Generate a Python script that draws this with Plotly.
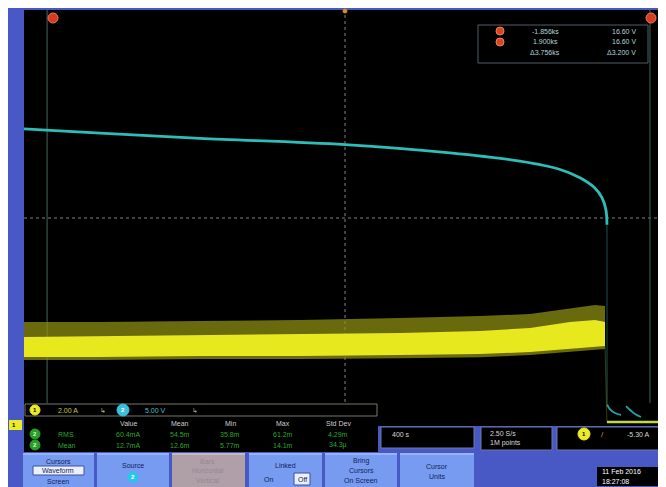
import plotly.graph_objects as go

# Channel 2 (cyan, volts) – slow decay, then collapse
ch2_t = [-2000, -1526, -903, 0, 654, 1090, 1340, 1464, 1558, 1601, 1626, 1632]
ch2_v = [27.6, 27.2, 26.7, 26.1, 25.3, 24.5, 23.7, 22.9, 21.9, 21.0, 19.8, 18.4]
# after the collapse: two small ringing arcs near 0 V
ch2_tail_t = [1633, 1650, 1682, 1720, None, 1751, 1776, 1807, 1844]
ch2_tail_v = [1.1, 0.67, 0.29, 0.10, None, 0.96, 0.58, 0.19, -0.10]

# Channel 1 (yellow, amps) – noisy band envelopes
ch1_t = [-2000, -1526, -903, -280, 343, 841, 1153, 1402, 1558, 1620]
ch1_outer_top = [3.92, 3.92, 3.96, 4.00, 4.08, 4.15, 4.23, 4.46, 4.58, 4.54]
ch1_core_top = [3.35, 3.38, 3.42, 3.46, 3.50, 3.58, 3.69, 3.92, 4.00, 3.92]
ch1_core_bot = [2.58, 2.58, 2.62, 2.62, 2.65, 2.69, 2.77, 2.88, 2.96, 3.00]
ch1_outer_bot = [2.46, 2.46, 2.50, 2.50, 2.53, 2.57, 2.65, 2.76, 2.84, 2.88]
ch1_after_t = [1632, 2000]
ch1_after_a = [0.08, 0.08]

cursor_times = [-1856, 1900]
cursor_read_t = ["-1.856ks", "1.900ks", "Δ3.756ks"]
cursor_read_v = ["16.60 V", "16.60 V", "Δ3.200 V"]

meas_headers = ["Value", "Mean", "Min", "Max", "Std Dev"]
meas_rows = [
    ("RMS", ["60.4mA", "54.5m", "35.8m", "61.2m", "4.29m"]),
    ("Mean", ["12.7mA", "12.6m", "5.77m", "14.1m", "34.3μ"]),
]

# ---------------- geometry helpers (screen pixel -> paper) ----------------
X0, X1, Y0, Y1 = 24, 666, 10, 426
def px(x):
    return (x - X0) / (X1 - X0)
def py(y):
    return (Y1 - y) / (Y1 - Y0)

FONT = "Liberation Sans"
BLUE = "rgb(72,88,196)"
BTN = "rgb(118,155,240)"

fig = go.Figure()

YEL_DIM = "rgba(150,150,20,0.7)"
YEL = "rgb(232,232,30)"
fig.add_trace(go.Scatter(x=ch1_t, y=ch1_outer_bot, yaxis="y2", mode="lines",
                         line=dict(width=0, color=YEL_DIM), hoverinfo="skip", showlegend=False))
fig.add_trace(go.Scatter(x=ch1_t, y=ch1_outer_top, yaxis="y2", mode="lines", fill="tonexty",
                         fillcolor=YEL_DIM, line=dict(width=0, color=YEL_DIM),
                         hoverinfo="skip", showlegend=False))
fig.add_trace(go.Scatter(x=ch1_t, y=ch1_core_bot, yaxis="y2", mode="lines",
                         line=dict(width=0, color=YEL), hoverinfo="skip", showlegend=False))
fig.add_trace(go.Scatter(x=ch1_t, y=ch1_core_top, yaxis="y2", mode="lines", fill="tonexty",
                         fillcolor=YEL, line=dict(width=0, color=YEL),
                         hoverinfo="skip", showlegend=False))
fig.add_trace(go.Scatter(x=[ch1_t[-1], ch1_after_t[0]], y=[ch1_core_bot[-1], ch1_after_a[0]],
                         yaxis="y2", mode="lines", line=dict(width=1, color="rgba(120,120,20,0.5)"),
                         hoverinfo="skip", showlegend=False))
fig.add_trace(go.Scatter(x=ch1_after_t, y=ch1_after_a, yaxis="y2", mode="lines",
                         line=dict(width=2.5, color="rgb(190,220,70)"), showlegend=False))

CYAN = "rgb(45,190,185)"
fig.add_trace(go.Scatter(x=[ch2_t[-1], ch2_tail_t[0]], y=[ch2_v[-1], ch2_tail_v[0]],
                         mode="lines", line=dict(width=1.2, color="rgba(40,110,110,0.6)"),
                         showlegend=False))
fig.add_trace(go.Scatter(x=ch2_t, y=ch2_v, mode="lines", line=dict(width=2.8, color=CYAN),
                         line_shape="spline", showlegend=False))
fig.add_trace(go.Scatter(x=ch2_tail_t, y=ch2_tail_v, mode="lines",
                         line=dict(width=1.8, color="rgb(40,160,170)"), line_shape="spline",
                         showlegend=False))

shapes = []
ann = []

def rect(x0, y0, x1, y1, fill, line=None, lw=1, layer="above"):
    shapes.append(dict(type="rect", xref="paper", yref="paper", x0=px(x0), x1=px(x1),
                       y0=py(y1), y1=py(y0), fillcolor=fill, layer=layer,
                       line=dict(color=line or fill, width=lw if line else 0)))

def circ(cx, cy, r, fill, line=None):
    shapes.append(dict(type="circle", xref="paper", yref="paper", x0=px(cx - r), x1=px(cx + r),
                       y0=py(cy + r), y1=py(cy - r), fillcolor=fill, layer="above",
                       line=dict(color=line or fill, width=1)))

def text(x, y, s, color="white", size=7, anchor="center", bold=False):
    if bold:
        s = "<b>" + s + "</b>"
    ann.append(dict(xref="paper", yref="paper", x=px(x), y=py(y), text=s, showarrow=False,
                    xanchor=anchor, yanchor="middle", font=dict(family=FONT, size=size, color=color)))

# graticule centre cross (dotted)
shapes.append(dict(type="line", xref="x", yref="paper", x0=0, x1=0, y0=0, y1=1, layer="below",
                   line=dict(color="rgb(85,85,85)", width=1.5, dash="dot")))
shapes.append(dict(type="line", xref="paper", yref="paper", x0=0, x1=1, y0=py(218), y1=py(218),
                   layer="below", line=dict(color="rgb(85,85,85)", width=1.5, dash="dot")))
circ(345, 11, 2, "rgb(220,140,40)")

# cursors
for ct in cursor_times:
    shapes.append(dict(type="line", xref="x", yref="paper", x0=ct, x1=ct, y0=py(403), y1=1,
                       layer="below", line=dict(color="rgb(55,85,75)", width=1.2)))
circ(53, 18, 5, "rgb(215,60,35)", "rgb(240,120,80)")
circ(651, 18, 5, "rgb(215,60,35)", "rgb(240,120,80)")

# cursor readout box
rect(478, 25, 648, 63, "black", "rgb(80,95,105)", 1)
for i, (a, b) in enumerate(zip(cursor_read_t, cursor_read_v)):
    y = 31 + i * 11
    if i < 2:
        circ(500, y, 4, "rgb(215,70,35)", "rgb(240,130,80)")
    text(545, y, a, "rgb(175,215,215)", 7, "center")
    text(638, y, b, "rgb(175,215,215)", 7, "right")

# ---------- bottom panel ----------
rect(24, 403, 378, 452, "black")
rect(25, 404, 377, 416, "black", "rgb(120,120,110)", 1)
circ(35, 410, 5, "rgb(235,235,40)")
text(35, 410, "1", "black", 6, bold=True)
text(68, 410, "2.00 A", "rgb(200,200,60)", 7)
text(103, 410, "↳", "rgb(190,190,120)", 7)
circ(123, 410, 6, "rgb(60,190,220)")
text(123, 410, "2", "white", 6, bold=True)
text(155, 410, "5.00 V", "rgb(80,190,200)", 7)
text(195, 410, "↳", "rgb(160,170,170)", 7)

shapes.append(dict(type="rect", xref="paper", yref="paper", x0=px(9), x1=px(22), y0=py(430),
                   y1=py(420), fillcolor="rgb(235,235,40)", line=dict(width=0), layer="above"))
text(14, 425, "1", "black", 6, bold=True)

hx = [128, 180, 230, 283, 338]
for h, x in zip(meas_headers, hx):
    text(x, 423, h, "rgb(205,205,205)", 7)
for r, (lab, vals) in enumerate(meas_rows):
    y = 434 + r * 11
    circ(35, y, 5, "rgb(40,160,40)")
    text(35, y, "2", "rgb(200,255,200)", 6, bold=True)
    text(56, y, lab, "rgb(40,170,40)", 7, "left")
    for v, x in zip(vals, hx):
        text(x, y, v, "rgb(40,170,40)", 7)

# right info boxes
rect(381, 427, 474, 448, "black", "rgb(110,120,170)", 1)
text(390, 434, "400 s", "rgb(215,215,215)", 7, "left")
rect(481, 427, 552, 450, "black", "rgb(110,120,170)", 1)
text(488, 433, "2.50 S/s", "rgb(215,215,215)", 7, "left")
text(488, 443, "1M points", "rgb(215,215,215)", 7, "left")
rect(557, 427, 666, 450, "black", "rgb(110,120,170)", 1)
circ(584, 434, 6, "rgb(235,235,40)")
text(584, 434, "1", "black", 6, bold=True)
text(602, 434, "/", "rgb(220,150,60)", 8)
text(652, 434, "-5.30 A", "rgb(215,215,215)", 7, "right")

# date box
rect(597, 467, 658, 486, "black")
text(600, 471, "11 Feb 2016", "white", 7, "left")
text(600, 481, "18:27:08", "white", 7, "left")

# buttons
NAVY = "rgb(20,30,90)"
btns = [(23, 94), (97, 169), (172, 245), (249, 322), (325, 397), (400, 474)]
for i, (a, b) in enumerate(btns):
    rect(a, 453, b, 487, "rgb(175,160,168)" if i == 2 else BTN)
    rect(a, 453, b, 455, "rgb(150,180,250)" if i != 2 else "rgb(195,185,190)")
text(58, 461, "Cursors", NAVY, 7)
rect(33, 466, 84, 475, "rgb(235,240,255)", "rgb(60,80,160)", 1)
text(58, 470.5, "Waveform", NAVY, 7)
text(58, 481, "Screen", NAVY, 7)
text(133, 465, "Source", NAVY, 7)
circ(133, 477, 5, "rgb(40,200,230)")
text(133, 477, "2", "white", 6, bold=True)
text(208, 461, "Bars", "rgb(150,135,145)", 7)
text(208, 470, "Horizontal", "rgb(150,135,145)", 7)
text(208, 480, "Vertical", "rgb(150,135,145)", 7)
text(285, 465, "Linked", NAVY, 7)
text(268, 479, "On", NAVY, 7)
rect(294, 473, 310, 485, "rgb(235,240,255)", "rgb(60,80,160)", 1)
text(302, 479, "Off", NAVY, 7)
text(361, 461, "Bring", NAVY, 7)
text(361, 470, "Cursors", NAVY, 7)
text(361, 480, "On Screen", NAVY, 7)
text(437, 466, "Cursor", NAVY, 7)
text(437, 476, "Units", NAVY, 7)

# axes: 400 s/div x 10 div; ch2 5 V/div, ch1 2 A/div, 8 div tall (52 px/div)
# figure sits 8 px right/down of the screenshot origin (page margin)
fig.update_layout(
    width=666, height=487,
    margin=dict(l=X0 - 8, r=666 - (X1 - 8), t=Y0 - 8, b=487 - (Y1 - 8), pad=0),
    paper_bgcolor=BLUE, plot_bgcolor="black",
    xaxis=dict(range=[-2000, 2000], visible=False, showgrid=False, zeroline=False, fixedrange=True),
    yaxis=dict(range=[-10 / 52 * 5, 406 / 52 * 5], visible=False, showgrid=False, zeroline=False),
    yaxis2=dict(range=[-2 / 52 * 2, 414 / 52 * 2], overlaying="y", visible=False,
                showgrid=False, zeroline=False),
    shapes=shapes, annotations=ann, showlegend=False,
)
fig.write_html("out.html")
